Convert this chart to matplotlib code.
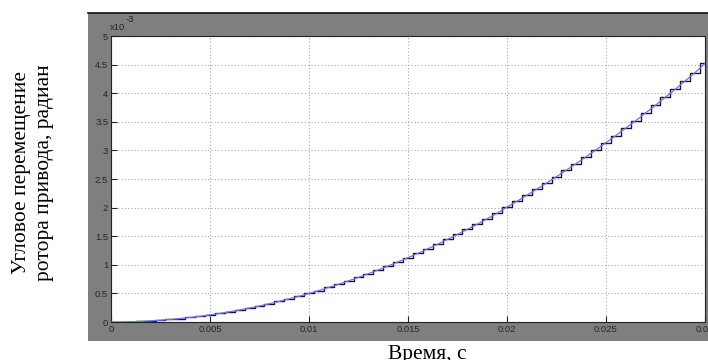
import numpy as np
import matplotlib
matplotlib.use('Agg')
import matplotlib.pyplot as plt
from matplotlib.patches import Rectangle

# sample instants (ms) and angular displacement (x1e-3 rad)
t_ms = [0.0, 0.5, 1.0, 1.5, 2.0, 2.5, 3.0, 3.5, 4.0, 4.5,
        5.0, 5.5, 6.0, 6.5, 7.0, 7.5, 8.0, 8.5, 9.0, 9.5,
        10.0, 10.5, 11.0, 11.5, 12.0, 12.5, 13.0, 13.5, 14.0, 14.5,
        15.0, 15.5, 16.0, 16.5, 17.0, 17.5, 18.0, 18.5, 19.0, 19.5,
        20.0, 20.5, 21.0, 21.5, 22.0, 22.5, 23.0, 23.5, 24.0, 24.5,
        25.0, 25.5, 26.0, 26.5, 27.0, 27.5, 28.0, 28.5, 29.0, 29.5, 30.0]
theta = [0.0, 0.0, 0.005, 0.011, 0.02, 0.031, 0.045, 0.061, 0.08, 0.10,
         0.125, 0.15, 0.18, 0.21, 0.245, 0.28, 0.32, 0.36, 0.405, 0.45,
         0.50, 0.55, 0.605, 0.66, 0.72, 0.78, 0.845, 0.91, 0.98, 1.05,
         1.125, 1.20, 1.28, 1.36, 1.445, 1.53, 1.62, 1.71, 1.805, 1.90,
         2.01, 2.11, 2.215, 2.32, 2.43, 2.54, 2.655, 2.77, 2.89, 3.01,
         3.135, 3.26, 3.39, 3.52, 3.655, 3.79, 3.93, 4.07, 4.215, 4.36, 4.52]

xticks = [0, 0.005, 0.01, 0.015, 0.02, 0.025, 0.03]
xticklabels = ['0', '0.005', '0.01', '0.015', '0.02', '0.025', '0.03']
yticks = [0, 0.5, 1, 1.5, 2, 2.5, 3, 3.5, 4, 4.5, 5]
yticklabels = ['0', '0.5', '1', '1.5', '2', '2.5', '3', '3.5', '4', '4.5', '5']

W, H = 708, 360
fig = plt.figure(figsize=(W/100, H/100), dpi=100)
fig.patch.set_facecolor('white')

# matlab-style grey figure panel
fig.patches.append(Rectangle((88/W, 1 - 341/H), 620/W, 328/H, transform=fig.transFigure,
                             facecolor='#7f7f7f', edgecolor='none', zorder=-5))
fig.lines.append(plt.Line2D([88/W, 1], [1 - 13/H, 1 - 13/H], transform=fig.transFigure,
                            color='#111111', lw=1.2, zorder=-4))

ax = fig.add_axes([111/W, 1 - 322/H, 594/W, 286/H])
ax.set_facecolor('white')

t = np.array(t_ms) / 1000.0
th = np.array(theta)
ax.plot(t, th, color='#7070ff', lw=0.9, zorder=3)
ax.plot(t, th, color='#1a1a1a', lw=1.0, drawstyle='steps-mid', zorder=2)

ax.set_xlim(0, 0.03)
ax.set_ylim(0, 5)
ax.set_xticks(xticks)
ax.set_xticklabels(xticklabels, family='Liberation Sans')
ax.set_yticks(yticks)
ax.set_yticklabels(yticklabels, family='Liberation Sans')
ax.grid(True, color='#aaaaaa', linestyle=(0, (1, 2)), lw=0.8)
ax.tick_params(direction='in', length=4, width=0.8, colors='#222222',
               labelsize=6.8, labelcolor='#262626', pad=2)
for s in ax.spines.values():
    s.set_color('#222222')
    s.set_linewidth(0.8)

fig.text(110/W, 1 - 28/H, 'x10', fontsize=6.8, color='#262626',
         family='Liberation Sans', ha='left', va='center')
fig.text(126/W, 1 - 20/H, '-3', fontsize=6.8, color='#262626',
         family='Liberation Sans', ha='left', va='center')

fig.text(33/W, 1 - 173/H, 'Угловое перемещение\nротора привода, радиан',
         rotation=90, ha='center', va='center', multialignment='center',
         family='Liberation Serif', fontsize=15.5, linespacing=1.25)
fig.text(427/W, 1 - 359/H, 'Время, с', ha='center', va='baseline',
         family='Liberation Serif', fontsize=15.5)

fig.savefig('out.png', dpi=100)
